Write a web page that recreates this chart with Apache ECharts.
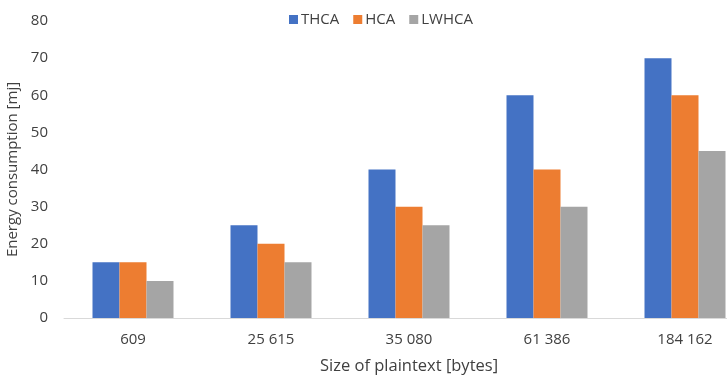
<!DOCTYPE html>
<html>
<head>
<meta charset="utf-8">
<script src="https://cdn.jsdelivr.net/npm/echarts@6/dist/echarts.min.js"></script>
<style>
  html, body { margin: 0; padding: 0; background: #fff; }
  #chart { width: 727px; height: 379px; }
</style>
</head>
<body>
<div id="chart"></div>
<script>
const categories = ['609', '25 615', '35 080', '61 386', '184 162'];
const thca = [15, 25, 40, 60, 70];
const hca = [15, 20, 30, 40, 60];
const lwhca = [10, 15, 25, 30, 45];

const font = 'Open Sans, Noto Sans, sans-serif';
const textColor = '#404040';

const chart = echarts.init(document.getElementById('chart'));
chart.setOption({
  animation: false,
  textStyle: { fontFamily: font },
  legend: {
    left: 284,
    top: 7,
    itemWidth: 9,
    itemHeight: 9,
    itemGap: 14,
    icon: 'rect',
    textStyle: { fontSize: 15, color: textColor, fontFamily: font, padding: [0, 0, 0, -2] },
    data: ['THCA', 'HCA', 'LWHCA']
  },
  // the plot runs past the right edge of the canvas, so the last group is cut at the border
  grid: { left: 64, top: 21, width: 690, height: 297, outerBoundsMode: 'none', containLabel: false },
  xAxis: {
    type: 'category',
    data: categories,
    axisLine: { lineStyle: { color: '#d9d9d9', width: 1 } },
    axisTick: { show: false },
    axisLabel: { fontSize: 15, color: textColor, margin: 14, fontFamily: font },
    name: 'Size of plaintext [bytes]',
    nameLocation: 'middle',
    nameGap: 40,
    nameTextStyle: { fontSize: 16.5, color: textColor, fontFamily: font }
  },
  yAxis: {
    type: 'value',
    min: 0,
    max: 80,
    interval: 10,
    splitLine: { show: false },
    axisLine: { show: false },
    axisTick: { show: false },
    axisLabel: { fontSize: 15, color: textColor, margin: 16, fontFamily: font },
    name: 'Energy consumption [mj]',
    nameLocation: 'middle',
    nameGap: 43,
    nameTextStyle: { fontSize: 15, color: textColor, fontFamily: font }
  },
  series: [
    { name: 'THCA', type: 'bar', data: thca, itemStyle: { color: '#4472C4' }, barGap: '0%', barCategoryGap: '41.3%' },
    { name: 'HCA', type: 'bar', data: hca, itemStyle: { color: '#ED7D31' } },
    { name: 'LWHCA', type: 'bar', data: lwhca, itemStyle: { color: '#A5A5A5' } }
  ]
});
</script>
</body>
</html>
